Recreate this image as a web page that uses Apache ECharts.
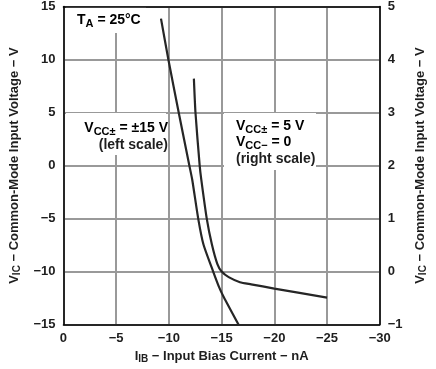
<!DOCTYPE html>
<html>
<head>
<meta charset="utf-8">
<script src="https://cdn.jsdelivr.net/npm/echarts@6/dist/echarts.min.js"></script>
<style>
html,body{margin:0;padding:0;background:#fff;}
#c{width:436px;height:369px;}
</style>
</head>
<body>
<div id="c"></div>
<script>
// Curve 1: VCC± = ±15 V (left scale)
var currentPm15 = [-9.25, -9.95, -10.93, -11.94, -12.21, -12.78, -13.28, -14.2, -14.75, -15.2, -16.6];
var voltagePm15 = [13.86, 10, 5, 0, -1.32, -5, -7.45, -10, -11.44, -12.4, -15];
// Curve 2: VCC+ = 5 V, VCC- = 0 (right scale)
var current5V = [-12.37, -12.52, -12.92, -13.07, -13.59, -14.08, -14.6, -15.0, -15.67, -16.74, -17.8, -20, -25];
var voltage5V = [3.64, 3, 2, 1.74, 1.0, 0.51, 0.14, 0, -0.105, -0.2, -0.24, -0.32, -0.49];

var xTicks = [0, -5, -10, -15, -20, -25, -30];
var leftTicks = [-15, -10, -5, 0, 5, 10, 15];
var rightTicks = [-1, 0, 1, 2, 3, 4, 5];

function pairs(xs, ys){ return xs.map(function(x,i){ return [x, ys[i]]; }); }
function fmt(v){ return String(v).replace('-', '\u2212'); }

var FF = '"Liberation Sans", Arial, sans-serif';
var TXT = '#1e1e1e';
var GRID = '#999999';
var rich = {
  n: {fontSize: 13, fontWeight: 'bold', fontFamily: FF, color: TXT},
  s: {fontSize: 10, fontWeight: 'bold', fontFamily: FF, color: TXT, padding: [6,0,0,0]}
};
var richA = {
  n: {fontSize: 14, fontWeight: 'bold', fontFamily: FF, color: TXT},
  s: {fontSize: 11, fontWeight: 'bold', fontFamily: FF, color: TXT, padding: [7,0,0,0]}
};
var axLine = {show: true, onZero: false, lineStyle: {color: '#000', width: 1.5}};

var chart = echarts.init(document.getElementById('c'), null, {renderer: 'canvas'});
chart.setOption({
  animation: false,
  backgroundColor: '#fff',
  grid: {left: 61, right: 48, top: 3, bottom: 41, show: false},
  xAxis: [{
    type: 'value', min: -30, max: 0, interval: 5, inverse: true, position: 'bottom',
    axisLine: axLine,
    axisTick: {show: false},
    splitLine: {show: true, lineStyle: {color: GRID, width: 2, type: 'solid', opacity: 1}},
    axisLabel: {margin: 7, fontSize: 13, fontWeight: 'bold', fontFamily: FF, color: TXT, formatter: fmt},
    name: '{n|I}{s|IB}{n| \u2212 Input Bias Current \u2212 nA}',
    nameLocation: 'middle', nameGap: 21,
    nameTextStyle: {rich: rich}
  }, {
    type: 'value', min: -30, max: 0, interval: 5, inverse: true, position: 'top', z: 3,
    axisLine: axLine, axisTick: {show: false}, axisLabel: {show: false}, splitLine: {show: false}
  }],
  yAxis: [{
    type: 'value', min: -15, max: 15, interval: 5, position: 'left',
    axisLine: axLine,
    axisTick: {show: false},
    splitLine: {show: true, lineStyle: {color: GRID, width: 2, type: 'solid', opacity: 1}},
    axisLabel: {margin: 8, fontSize: 13, fontWeight: 'bold', fontFamily: FF, color: TXT, formatter: fmt},
    name: '{n|V}{s|IC}{n| \u2212 Common-Mode Input Voltage \u2212 V}',
    nameLocation: 'middle', nameGap: 39, nameRotate: 90,
    nameTextStyle: {rich: rich}
  }, {
    type: 'value', min: -1, max: 5, interval: 1, position: 'right',
    axisLine: axLine,
    axisTick: {show: false},
    splitLine: {show: false},
    axisLabel: {margin: 8, fontSize: 13, fontWeight: 'bold', fontFamily: FF, color: TXT, formatter: fmt},
    name: '{n|V}{s|IC}{n| \u2212 Common-Mode Input Voltage \u2212 V}',
    nameLocation: 'middle', nameGap: 31, nameRotate: 90,
    nameTextStyle: {rich: rich}
  }],
  graphic: [
    {type: 'rect', z: 1, shape: {x: 66, y: 7, width: 80, height: 26}, style: {fill: '#fff'}},
    {type: 'rect', z: 1, shape: {x: 66, y: 113, width: 100, height: 42}, style: {fill: '#fff'}},
    {type: 'rect', z: 1, shape: {x: 224, y: 113, width: 92, height: 57}, style: {fill: '#fff'}},
    {type: 'text', z: 2, x: 77, y: 20, style: {text: '{n|T}{s|A}{n| = 25°C}', rich: richA, verticalAlign: 'middle', align: 'left'}},
    {type: 'text', z: 2, x: 168, y: 128, style: {text: '{n|V}{s|CC±}{n| = ±15 V}', rich: richA, verticalAlign: 'middle', align: 'right'}},
    {type: 'text', z: 2, x: 168, y: 145, style: {text: '(left scale)', font: 'bold 14px ' + FF, fill: TXT, verticalAlign: 'middle', align: 'right'}},
    {type: 'text', z: 2, x: 236, y: 126, style: {text: '{n|V}{s|CC±}{n| = 5 V}', rich: richA, verticalAlign: 'middle', align: 'left'}},
    {type: 'text', z: 2, x: 236, y: 142, style: {text: '{n|V}{s|CC\u2212}{n| = 0}', rich: richA, verticalAlign: 'middle', align: 'left'}},
    {type: 'text', z: 2, x: 236, y: 159, style: {text: '(right scale)', font: 'bold 14px ' + FF, fill: TXT, verticalAlign: 'middle', align: 'left'}}
  ],
  series: [{
    type: 'line', xAxisIndex: 0, yAxisIndex: 0, z: 5, symbol: 'none', smooth: 0.2,
    lineStyle: {color: '#262626', width: 2.2},
    data: pairs(currentPm15, voltagePm15)
  }, {
    type: 'line', xAxisIndex: 0, yAxisIndex: 1, z: 5, symbol: 'none', smooth: 0.2,
    lineStyle: {color: '#262626', width: 2.2},
    data: pairs(current5V, voltage5V)
  }]
});
</script>
</body>
</html>
